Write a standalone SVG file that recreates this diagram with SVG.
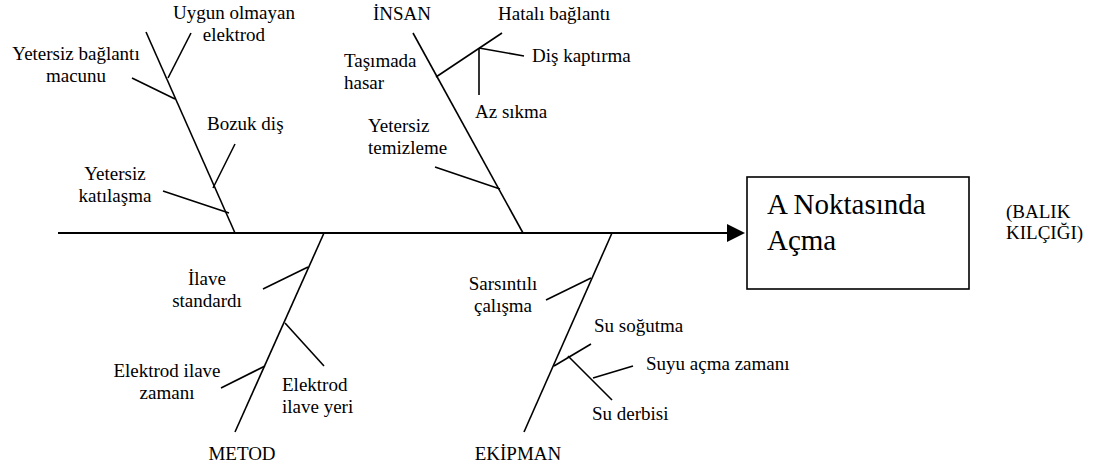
<svg xmlns="http://www.w3.org/2000/svg" width="1100" height="473" viewBox="0 0 1100 473">
  <style>
    .bone { stroke: #000; stroke-width: 1.6; fill: none; stroke-linecap: butt; }
    .spine { stroke: #000; stroke-width: 2; fill: none; }
    .lbl { font-family: "Liberation Serif", "Times New Roman", serif; font-size: 19px; fill: #000; }
    .mid { text-anchor: middle; }
    .head { font-family: "Liberation Serif", "Times New Roman", serif; font-size: 29px; fill: #000; }
  </style>
  <defs>
    <marker id="arrow" markerWidth="10" markerHeight="10" refX="10" refY="5" orient="auto" markerUnits="userSpaceOnUse" viewBox="0 0 10 10">
      <path d="M0,0 L10,5 L0,10 Z" fill="#000"/>
    </marker>
  </defs>
  <rect width="1100" height="473" fill="#fff"/>

  <!-- connectors: spine, main bones and sub-causes -->
  <g id="connectors">
    <line class="spine" x1="58" y1="233" x2="727" y2="233"/>
    <path d="M727,224 L745,233 L727,242 Z" fill="#000"/>

    <!-- upper-left bone -->
    <line class="bone" x1="146" y1="32" x2="235" y2="233"/>
    <line class="bone" x1="191" y1="33" x2="168" y2="78"/>
    <line class="bone" x1="132" y1="78" x2="175" y2="99"/>
    <line class="bone" x1="235" y1="144" x2="213" y2="188"/>
    <line class="bone" x1="163" y1="191" x2="229" y2="213"/>

    <!-- upper bone: İNSAN -->
    <line class="bone" x1="413" y1="33" x2="523" y2="233"/>
    <line class="bone" x1="436" y1="77" x2="502" y2="33"/>
    <line class="bone" x1="479" y1="48" x2="479" y2="95"/>
    <line class="bone" x1="479" y1="48" x2="524" y2="56"/>
    <line class="bone" x1="435" y1="167" x2="500" y2="189"/>

    <!-- lower-left bone: METOD -->
    <line class="bone" x1="324" y1="233" x2="235" y2="432"/>
    <line class="bone" x1="308" y1="267" x2="263" y2="289"/>
    <line class="bone" x1="285" y1="323" x2="324" y2="366"/>
    <line class="bone" x1="265" y1="366" x2="221" y2="388"/>

    <!-- lower bone: EKİPMAN -->
    <line class="bone" x1="612" y1="233" x2="524" y2="432"/>
    <line class="bone" x1="591" y1="278" x2="546" y2="300"/>
    <line class="bone" x1="554" y1="366" x2="591" y2="344"/>
    <line class="bone" x1="568" y1="356" x2="612" y2="400"/>
    <line class="bone" x1="593" y1="378" x2="633" y2="366"/>
  </g>

  <!-- effect box -->
  <g id="effect">
    <rect x="747" y="177" width="222" height="112" fill="#fff" stroke="#000" stroke-width="1.6"/>
    <text class="head" x="767" y="214">A Noktasında</text>
    <text class="head" x="767" y="250">Açma</text>
  </g>

  <g id="caption">
    <text class="lbl" x="1006" y="218">(BALIK</text>
    <text class="lbl" x="1006" y="239">KILÇIĞI)</text>
  </g>

  <g id="cause-upper-left">
    <text class="lbl mid" x="234" y="19">Uygun olmayan</text>
    <text class="lbl mid" x="234" y="41">elektrod</text>
    <text class="lbl mid" x="76" y="60">Yetersiz bağlantı</text>
    <text class="lbl mid" x="76" y="82">macunu</text>
    <text class="lbl" x="207" y="130">Bozuk diş</text>
    <text class="lbl mid" x="115" y="180">Yetersiz</text>
    <text class="lbl mid" x="115" y="202">katılaşma</text>
  </g>

  <g id="cause-insan">
    <text class="lbl mid" x="402" y="20">İNSAN</text>
    <text class="lbl" x="498" y="20">Hatalı bağlantı</text>
    <text class="lbl" x="532" y="62">Diş kaptırma</text>
    <text class="lbl" x="344" y="67">Taşımada</text>
    <text class="lbl" x="344" y="89">hasar</text>
    <text class="lbl" x="475" y="118">Az sıkma</text>
    <text class="lbl" x="368" y="132">Yetersiz</text>
    <text class="lbl" x="368" y="154">temizleme</text>
  </g>

  <g id="cause-metod">
    <text class="lbl mid" x="207" y="285">İlave</text>
    <text class="lbl mid" x="207" y="307">standardı</text>
    <text class="lbl mid" x="167" y="377">Elektrod ilave</text>
    <text class="lbl mid" x="167" y="399">zamanı</text>
    <text class="lbl" x="282" y="391">Elektrod</text>
    <text class="lbl" x="282" y="413">ilave yeri</text>
    <text class="lbl mid" x="242" y="460">METOD</text>
  </g>

  <g id="cause-ekipman">
    <text class="lbl mid" x="503" y="290">Sarsıntılı</text>
    <text class="lbl mid" x="503" y="312">çalışma</text>
    <text class="lbl" x="594" y="332">Su soğutma</text>
    <text class="lbl" x="646" y="370">Suyu açma zamanı</text>
    <text class="lbl" x="592" y="420">Su derbisi</text>
    <text class="lbl mid" x="518" y="460">EKİPMAN</text>
  </g>
</svg>
